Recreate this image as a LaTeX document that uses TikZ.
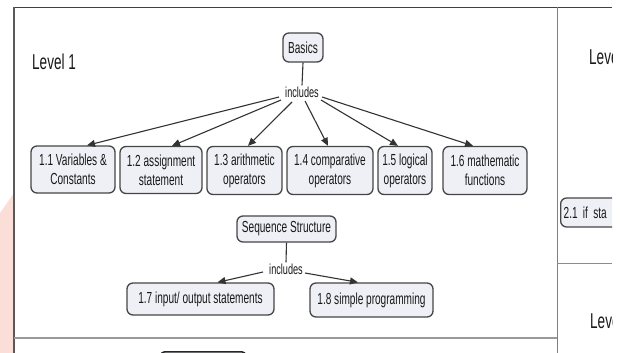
\documentclass[tikz,border=0pt]{standalone}
\usepackage{fontspec}
\setmainfont{Liberation Sans}[FakeStretch=0.63]
\usetikzlibrary{arrows.meta}
\definecolor{boxfill}{RGB}{238,240,246}
\definecolor{boxline}{RGB}{70,70,70}
\definecolor{pinkstrip}{RGB}{252,222,216}
\begin{document}
\begin{tikzpicture}[x=1pt,y=-1pt,
  cbox/.style={draw=boxline, line width=1.3pt, rounded corners=6pt, fill=boxfill, align=center, inner sep=2pt, text=black!90, font=\fontsize{16}{19}\selectfont},
  lbl/.style={inner sep=1pt, font=\fontsize{14.5}{16}\selectfont, text=black!90},
  lvl/.style={inner sep=0pt, font=\fontsize{21.5}{24}\selectfont, anchor=west, text=black!90},
  link/.style={draw=black!80, line width=1.1pt},
  arr/.style={link, -{Triangle[length=8pt,width=7pt]}},
  frameline/.style={line width=1.2pt}]
\useasboundingbox (0,0) rectangle (625,353);
\fill[white] (0,0) rectangle (625,353);
\fill[pinkstrip] (0,213) -- (14,193) -- (14,353) -- (0,353) -- cycle;

% frame lines
\draw[frameline, black!75] (14,7.5) -- (612,7.5);
\draw[frameline, black!65] (14,7.5) -- (14,353);
\draw[line width=1pt, black!50] (557,7.5) -- (557,353);
\draw[line width=1.4pt, black!40] (14,338) -- (557,338);
\draw[line width=1pt, black!45] (557,263) -- (612,263);

% level 1
\node[lvl] (lev1) at (32,62) {Level 1};

\node[cbox, minimum width=40, minimum height=29] (basics) at (303,47.5) {Basics};
\node[lbl] (inc) at (302,92) {includes};

\node[cbox, minimum width=84, minimum height=47] (b11) at (73,169.5) {1.1 Variables \&\\Constants};
\node[cbox, minimum width=82, minimum height=47] (b12) at (161,170) {1.2 assignment\\statement};
\node[cbox, minimum width=75, minimum height=48] (b13) at (244.5,170.5) {1.3 arithmetic\\operators};
\node[cbox, minimum width=86, minimum height=48] (b14) at (330,170.5) {1.4 comparative\\operators};
\node[cbox, minimum width=54, minimum height=48] (b15) at (405,170.5) {1.5 logical\\operators};
\node[cbox, minimum width=84, minimum height=48] (b16) at (485,170.5) {1.6 mathematic\\functions};

\draw[link] (basics.south) -- (inc.north);
\draw[arr] ([shift={(-23,5)}]inc.center) -- ([xshift=14pt]b11.north);
\draw[arr] ([shift={(-21,8)}]inc.center) -- ([xshift=11pt]b12.north);
\draw[arr] ([shift={(-10,10)}]inc.center) -- ([xshift=3.5pt]b13.north);
\draw[arr] ([shift={(3,9)}]inc.center) -- ([xshift=-2pt]b14.north);
\draw[arr] ([shift={(19,8)}]inc.center) -- ([xshift=-7pt]b15.north);
\draw[arr] ([shift={(20,5)}]inc.center) -- ([xshift=-12pt]b16.north);

% sequence structure
\node[cbox, minimum width=99, minimum height=26] (seq) at (286.5,229) {Sequence Structure};
\node[lbl] (inc2) at (286,269) {includes};
\node[cbox, minimum width=147, minimum height=32] (b17) at (200.5,299) {1.7 input/ output statements};
\node[cbox, minimum width=123, minimum height=34] (b18) at (371.5,300) {1.8 simple programming};

\draw[link] (seq.south) -- (inc2.north);
\draw[arr] ([shift={(-23,3)}]inc2.center) -- ([xshift=17pt]b17.north);
\draw[arr] ([shift={(19,4)}]inc2.center) -- ([xshift=-13.5pt]b18.north);

% partially visible box at the bottom
\node[draw=black!85, line width=1.5pt, rounded corners=4pt, fill=boxfill, minimum width=85, minimum height=20, anchor=north west] (bot) at (160,351) {};

% right column, cut off
\begin{scope}
\clip (557.5,8) rectangle (612,353);
\node[lvl] (lev2) at (589,57) {Level};
\node[cbox, anchor=west, text width=70pt, align=left, minimum height=29, inner sep=3pt] (b21) at (560,212.5) {2.1 if sta};
\node[lvl] (lev3) at (590,321) {Level};
\end{scope}
\end{tikzpicture}
\end{document}
